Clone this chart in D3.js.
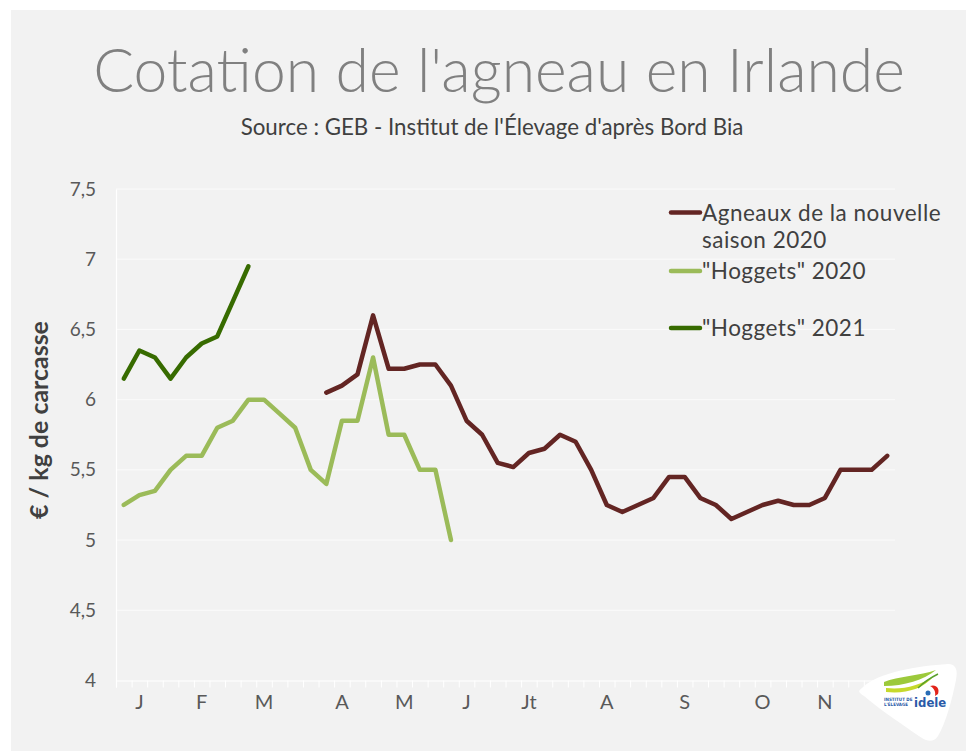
<!DOCTYPE html>
<html>
<head>
<meta charset="utf-8">
<script src="https://cdnjs.cloudflare.com/ajax/libs/d3/7.8.5/d3.min.js"></script>
<style>
  html, body { margin: 0; padding: 0; background: #ffffff; }
  svg { display: block; }
</style>
</head>
<body>
<div id="chart"></div>
<script>
// weekly prices, €/kg carcass (index = week of year, 50 categories on the axis)
var weekCount = 50;
var hoggets2021 = [6.15, 6.35, 6.30, 6.15, 6.30, 6.40, 6.45, 6.70, 6.95];
var hoggets2020 = [5.25, 5.32, 5.35, 5.50, 5.60, 5.60, 5.80, 5.85, 6.00, 6.00, 5.90,
                   5.80, 5.50, 5.40, 5.85, 5.85, 6.30, 5.75, 5.75, 5.50, 5.50, 5.00];
var agneauxStart = 13;
var agneaux2020 = [6.05, 6.10, 6.18, 6.60, 6.22, 6.22, 6.25, 6.25, 6.10, 5.85, 5.75,
                   5.55, 5.52, 5.62, 5.65, 5.75, 5.70, 5.50, 5.25, 5.20, 5.25, 5.30,
                   5.45, 5.45, 5.30, 5.25, 5.15, 5.20, 5.25, 5.28, 5.25, 5.25, 5.30,
                   5.50, 5.50, 5.50, 5.60];

var monthLabels = ["J", "F", "M", "A", "M", "J", "Jt", "A", "S", "O", "N"];
var monthWeeks  = [1, 5, 9, 14, 18, 22, 26, 31, 36, 41, 45];
var yTicks = [4, 4.5, 5, 5.5, 6, 6.5, 7, 7.5];

var series = [
    { name: "Agneaux de la nouvelle", name2: "saison 2020", start: agneauxStart, values: agneaux2020, color: "#632523" },
    { name: "\"Hoggets\" 2020", start: 0, values: hoggets2020, color: "#9bbb59" },
    { name: "\"Hoggets\" 2021", start: 0, values: hoggets2021, color: "#376b00" }
];

(function(){
    var width = 966;
    var height = 751;
    var fontFam = "Lato, 'DejaVu Sans', sans-serif";

    var svg = d3.select("#chart")
        .append("svg")
        .attr("width", width)
        .attr("height", height);

    // panel background
    svg.append("rect")
        .attr("x", 11).attr("y", 10)
        .attr("width", width - 11).attr("height", height - 10)
        .attr("fill", "#f2f2f2");

    var plotLeft = 116, plotRight = 895, plotTop = 189, plotBottom = 680.5;

    var x = d3.scaleBand().domain(d3.range(weekCount)).range([plotLeft, plotRight]).padding(0);
    var xEdges = d3.scaleLinear().domain([0, weekCount]).range([plotLeft, plotRight]);
    var y = d3.scaleLinear().domain([4, 7.5]).range([plotBottom, plotTop]);

    // gridlines
    svg.append("g")
        .selectAll("line")
        .data(yTicks.slice(1))
        .enter().append("line")
        .attr("x1", plotLeft).attr("x2", plotRight)
        .attr("y1", function(d){ return y(d); })
        .attr("y2", function(d){ return y(d); })
        .attr("stroke", "#fbfbfb")
        .attr("stroke-width", 1);

    // y axis
    var yAxis = svg.append("g")
        .attr("transform", "translate(" + plotLeft + ",0)")
        .call(d3.axisLeft(y).tickValues(yTicks).tickSize(0).tickPadding(20)
            .tickFormat(function(d){ return String(d).replace(".", ","); }));
    yAxis.select(".domain").attr("stroke", "#ffffff").attr("stroke-width", 1.2);
    yAxis.selectAll("text")
        .attr("fill", "#595959")
        .style("font-family", fontFam)
        .style("font-size", "19px");

    // x axis (ticks on week boundaries)
    var xAxis = svg.append("g")
        .attr("transform", "translate(0," + plotBottom + ")")
        .call(d3.axisBottom(xEdges).tickValues(d3.range(weekCount + 1)).tickSize(7).tickFormat(""));
    xAxis.select(".domain").attr("stroke", "#ffffff").attr("stroke-width", 1.2);
    xAxis.selectAll(".tick line").attr("stroke", "#ffffff").attr("stroke-width", 1);

    svg.append("g")
        .selectAll("text")
        .data(monthLabels)
        .enter().append("text")
        .attr("x", function(d, i){ return x(monthWeeks[i]) + x.bandwidth() / 2; })
        .attr("y", 709)
        .attr("text-anchor", "middle")
        .attr("fill", "#595959")
        .style("font-family", fontFam)
        .style("font-size", "20px")
        .text(function(d){ return d; });

    // lines
    var line = d3.line()
        .x(function(d){ return x(d.i) + x.bandwidth() / 2; })
        .y(function(d){ return y(d.v); });

    series.forEach(function(s){
        var pts = s.values.map(function(v, k){ return { i: s.start + k, v: v }; });
        svg.append("path")
            .datum(pts)
            .attr("d", line)
            .attr("fill", "none")
            .attr("stroke", s.color)
            .attr("stroke-width", 4.5)
            .attr("stroke-linejoin", "round")
            .attr("stroke-linecap", "round");
    });

    // legend
    var legendY = [212.5, 271, 328];
    var legend = svg.append("g")
        .style("font-family", fontFam)
        .style("font-size", "22.5px")
        .style("letter-spacing", "0.5px");
    series.forEach(function(s, k){
        legend.append("line")
            .attr("x1", 671).attr("x2", 700)
            .attr("y1", legendY[k]).attr("y2", legendY[k])
            .attr("stroke", s.color)
            .attr("stroke-width", 4.5)
            .attr("stroke-linecap", "round");
        legend.append("text")
            .attr("x", 702)
            .attr("y", legendY[k] + 8)
            .attr("fill", "#404040")
            .text(s.name);
        if (s.name2) {
            legend.append("text")
                .attr("x", 702)
                .attr("y", legendY[k] + 35)
                .attr("fill", "#404040")
                .text(s.name2);
        }
    });

    // titles, sized to the reference widths
    function fitText(sel, targetWidth) {
        var w = sel.node().getComputedTextLength();
        var fs = parseFloat(sel.style("font-size"));
        sel.style("font-size", (fs * targetWidth / w) + "px");
    }

    // y axis title
    var yTitle = svg.append("text")
        .attr("transform", "translate(48,420) rotate(-90)")
        .attr("text-anchor", "middle")
        .attr("fill", "#404040")
        .style("font-family", fontFam)
        .style("font-weight", "bold")
        .style("font-size", "21px")
        .text("€ / kg de carcasse");
    fitText(yTitle, 198);

    var title = svg.append("text")
        .attr("x", 499).attr("y", 92)
        .attr("text-anchor", "middle")
        .attr("fill", "#808080")
        .style("font-family", fontFam)
        .style("font-weight", 300)
        .style("font-size", "52px")
        .text("Cotation de l'agneau en Irlande");
    fitText(title, 812);

    var subtitle = svg.append("text")
        .attr("x", 492).attr("y", 135)
        .attr("text-anchor", "middle")
        .attr("fill", "#404040")
        .style("font-family", fontFam)
        .style("font-size", "18px")
        .text("Source : GEB - Institut de l'Élevage d'après Bord Bia");
    fitText(subtitle, 503);

    // logo
    var logo = svg.append("g").attr("transform", "translate(858,664)");
    logo.append("path")
        .attr("d", "M4,24 C20,8 60,2 90,0 C98,0 100,6 98,16 C94,36 88,58 80,72 C76,78 70,78 64,74 C46,62 20,44 6,32 C0,28 0,27 4,24 Z")
        .attr("fill", "#ffffff");
    logo.append("path")
        .attr("d", "M26,18 C40,12 62,12 78,6 C66,16 46,22 26,22 Z")
        .attr("fill", "#9cc93b");
    logo.append("path")
        .attr("d", "M28,24 C44,26 62,22 76,12 C64,26 46,30 28,28 Z")
        .attr("fill", "#c6d92c");
    logo.append("path")
        .attr("d", "M80,10 C72,14 66,18 60,24")
        .attr("fill", "none").attr("stroke", "#5aa02c").attr("stroke-width", 1.5);
    logo.append("path")
        .attr("d", "M72,22 C78,20 82,24 80,30 L77,32 C78,28 76,24 72,22 Z")
        .attr("fill", "#e2231a");
    logo.append("circle").attr("cx", 70).attr("cy", 29).attr("r", 2.5).attr("fill", "#2a6cb5");
    logo.append("text")
        .attr("x", 26).attr("y", 37)
        .attr("fill", "#2a5aa8")
        .style("font-family", "'DejaVu Sans Condensed', sans-serif")
        .style("font-size", "4.5px")
        .style("font-weight", "bold")
        .text("INSTITUT DE");
    logo.append("text")
        .attr("x", 26).attr("y", 42)
        .attr("fill", "#2a5aa8")
        .style("font-family", "'DejaVu Sans Condensed', sans-serif")
        .style("font-size", "4.5px")
        .style("font-weight", "bold")
        .text("L'ÉLEVAGE");
    logo.append("text")
        .attr("x", 56).attr("y", 43)
        .attr("fill", "#2a5aa8")
        .style("font-family", "'DejaVu Sans Condensed', sans-serif")
        .style("font-size", "13px")
        .style("font-weight", "bold")
        .text("idele");
})();
</script>
</body>
</html>
